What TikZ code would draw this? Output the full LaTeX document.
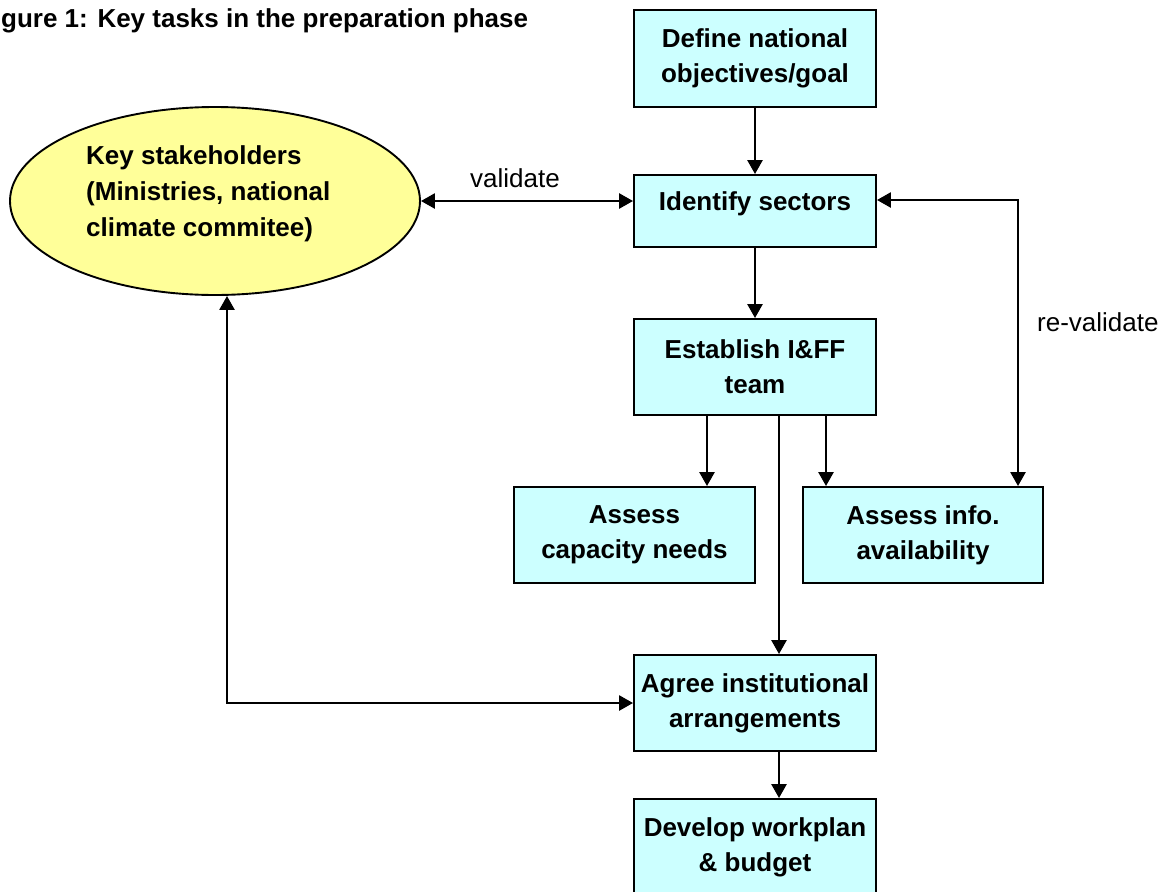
\documentclass[tikz,border=0pt]{standalone}
\usepackage{fontspec}
\setmainfont{Liberation Sans}
\usetikzlibrary{arrows.meta,shapes.geometric}
\definecolor{boxfill}{HTML}{CCFFFF}
\definecolor{ellfill}{HTML}{FFFF99}
\tikzset{
  taskbox/.style={draw=black, line width=1.9pt, fill=boxfill, inner sep=0pt,
    minimum width=242pt, minimum height=96pt, align=center,
    font=\fontsize{26}{35}\selectfont\bfseries},
  conn/.style={line width=2.6pt, -{Triangle[length=14pt,width=15pt]}},
  conn2/.style={line width=2.6pt, {Triangle[length=14pt,width=15pt]}-{Triangle[length=14pt,width=15pt]}},
  plainlbl/.style={font=\fontsize{26}{35}\selectfont, inner sep=0pt},
}
\begin{document}
\begin{tikzpicture}[x=1pt,y=-1pt]
\useasboundingbox (0,0) rectangle (1171,892);
\clip (0,0) rectangle (1171,892);
\fill[white] (0,0) rectangle (1171,892);

\node[plainlbl, font=\fontsize{26}{35}\selectfont\bfseries, anchor=west] (title) at (1,21) {gure 1: Key tasks in the preparation phase};

\node[draw=black, line width=1.9pt, fill=ellfill, ellipse, inner sep=0pt,
  minimum width=410pt, minimum height=188pt] (stake) at (215,201) {};
\node[anchor=north west, inner sep=0pt, align=left,
  font=\fontsize{26}{36}\selectfont\bfseries] (staketext) at (86,145)
  {Key stakeholders\\(Ministries, national\\climate commitee)};

\node[taskbox, minimum height=97pt] (def) at (755,58.5) {Define national\\objectives/goal};
\node[taskbox, minimum height=72pt, text depth=20pt] (ident) at (755,211) {Identify sectors};
\node[taskbox] (estab) at (755,367) {Establish I\&FF\\team};
\node[taskbox, minimum width=241pt] (cap) at (634.5,535) {Assess\\capacity needs};
\node[taskbox, minimum width=240pt] (info) at (923,535) {Assess info.\\availability};
\node[taskbox] (agree) at (755,703) {Agree institutional\\arrangements};
\node[taskbox] (dev) at (755,847) {Develop workplan\\\& budget};

\node[plainlbl] (val) at (515,178) {validate};
\node[plainlbl, anchor=west] (reval) at (1037,322) {re-validate};

\coordinate (xa) at (707,0);
\coordinate (xb) at (826,0);
\coordinate (xc) at (779,0);
\coordinate (xl) at (227,0);
\coordinate (rv) at (1018,200);

\draw[conn] (def) -- (ident);
\draw[conn] (ident) -- (estab);
\draw[conn2] (stake.east) -- (stake.east -| ident.west);
\draw[conn2] (ident.east |- rv) -- (rv) -- (rv |- info.north);
\draw[conn] (xa |- estab.south) -- (xa |- cap.north);
\draw[conn] (xb |- estab.south) -- (xb |- info.north);
\draw[conn] (xc |- estab.south) -- (xc |- agree.north);
\draw[conn] (xc |- agree.south) -- (xc |- dev.north);
\draw[conn2] (agree.west) -- (agree.west -| xl) -- (xl |- stake.south);
\end{tikzpicture}
\end{document}
